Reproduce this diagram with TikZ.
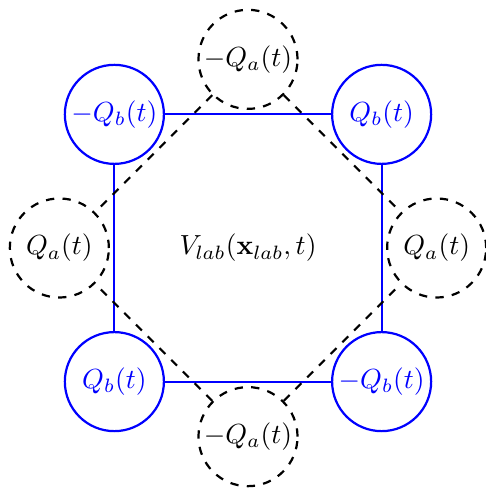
\documentclass[tikz,border=0pt]{standalone}
\usepackage{amsmath, amssymb}
\usepackage{tikz}
\begin{document}
\begin{tikzpicture}

\tikzset{charge/.style = {shape=circle,draw=blue,text=blue,thick,minimum size=1.26cm,inner sep=0pt}}
\tikzset{image/.style = {shape=circle,draw,dashed,thick,minimum size=1.26cm,inner sep=0pt}}
\tikzset{wall/.style = {draw=blue,thick}}
\tikzset{mirror/.style = {draw,dashed,thick}}
\useasboundingbox (-3.155,-3.066) rectangle (3.015,3.155);
% charges
\node[charge] (tl) at (-1.7,1.7) {$-Q_b(t)$};
\node[charge] (tr) at (1.7,1.7) {$Q_b(t)$};
\node[charge] (bl) at (-1.7,-1.7) {$Q_b(t)$};
\node[charge] (br) at (1.7,-1.7) {$-Q_b(t)$};
% images
\node[image] (t) at (0,2.4) {$-Q_a(t)$};
\node[image] (l) at (-2.4,0) {$Q_a(t)$};
\node[image] (r) at (2.4,0) {$Q_a(t)$};
\node[image] (b) at (0,-2.4) {$-Q_a(t)$};
\node (v) at (0,0) {$V_{lab}(\mathbf{x}_{lab},t)$};
%edges
\path (tl) edge[wall] (tr);
\path (tr) edge[wall] (br);
\path (br) edge[wall] (bl);
\path (bl) edge[wall] (tl);
\path (t) edge[mirror] (l);
\path (t) edge[mirror] (r);
\path (b) edge[mirror] (l);
\path (b) edge[mirror] (r);
\end{tikzpicture}
\end{document}
